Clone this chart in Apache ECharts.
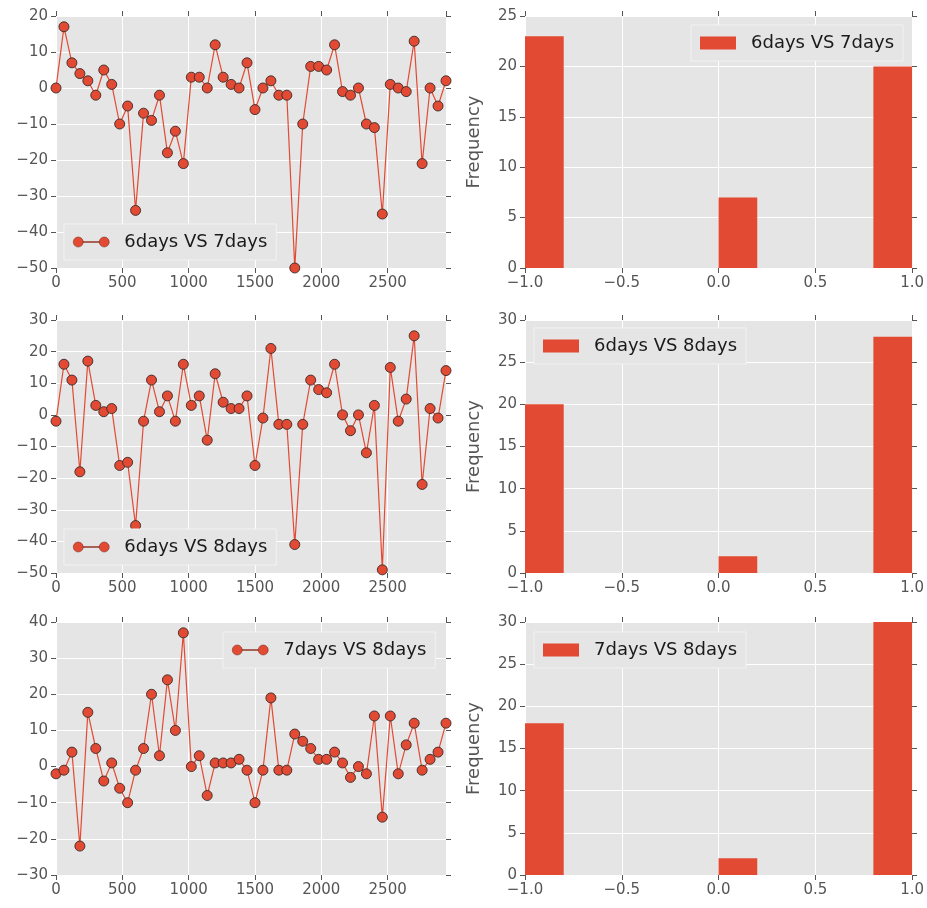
<!DOCTYPE html>
<html>
<head>
<meta charset="utf-8">
<script src="https://cdn.jsdelivr.net/npm/echarts@6/dist/echarts.min.js"></script>
<style>
html, body { margin: 0; padding: 0; background: #fff; }
#chart { width: 927px; height: 908px; }
</style>
</head>
<body>
<div id="chart"></div>
<script>
// sample positions (x axis of the line plots)
const xs = [0, 60, 120, 180, 240, 300, 360, 420, 480, 540,
    600, 660, 720, 780, 840, 900, 960, 1020, 1080, 1140,
    1200, 1260, 1320, 1380, 1440, 1500, 1560, 1620, 1680, 1740,
    1800, 1860, 1920, 1980, 2040, 2100, 2160, 2220, 2280, 2340,
    2400, 2460, 2520, 2580, 2640, 2700, 2760, 2820, 2880, 2940]

const diff67 = [0, 17, 7, 4, 2, -2, 5, 1, -10, -5,
    -34, -7, -9, -2, -18, -12, -21, 3, 3, 0,
    12, 3, 1, 0, 7, -6, 0, 2, -2, -2,
    -50, -10, 6, 6, 5, 12, -1, -2, 0, -10,
    -11, -35, 1, 0, -1, 13, -21, 0, -5, 2]
const diff68 = [-2, 16, 11, -18, 17, 3, 1, 2, -16, -15,
    -35, -2, 11, 1, 6, -2, 16, 3, 6, -8,
    13, 4, 2, 2, 6, -16, -1, 21, -3, -3,
    -41, -3, 11, 8, 7, 16, 0, -5, 0, -12,
    3, -49, 15, -2, 5, 25, -22, 2, -1, 14]
const diff78 = [-2, -1, 4, -22, 15, 5, -4, 1, -6, -10,
    -1, 5, 20, 3, 24, 10, 37, 0, 3, -8,
    1, 1, 1, 2, -1, -10, -1, 19, -1, -1,
    9, 7, 5, 2, 2, 4, 1, -3, 0, -2,
    14, -14, 14, -2, 6, 12, -1, 2, 4, 12]

// histogram bins and counts
const binEdges = [-1.0, -0.8, -0.6, -0.4, -0.2, 0.0, 0.2, 0.4, 0.6, 0.8, 1.0]
const hist67 = [23, 0, 0, 0, 0, 7, 0, 0, 0, 20]
const hist68 = [20, 0, 0, 0, 0, 2, 0, 0, 0, 28]
const hist78 = [18, 0, 0, 0, 0, 2, 0, 0, 0, 30]

const seriesNames = ['6days VS 7days', '6days VS 8days', '7days VS 8days']
const lineYMin = [-50, -50, -30]
const lineYMax = [20, 30, 40]
const histYMax = [25, 30, 30]

const lineData = [diff67, diff68, diff78]
const histData = [hist67, hist68, hist78]

// layout
const rowTop = [16, 320, 622]
const rowH = [252, 253, 253]
const lineLegendPos = [[64, 224], [64, 529], [223, 632]]
const histLegendPos = [[691, 25], [534, 328], [534, 632]]

const RED = '#E24A33'
const TICK = '#555555'
const minus = v => String(v).replace('-', '\u2212')

// two markers joined by a line, like the matplotlib legend handle
const markerIcon = 'path://M0,5A5,5,0,1,0,10,5A5,5,0,1,0,0,5ZM26,5A5,5,0,1,0,36,5A5,5,0,1,0,26,5ZM10,4.5L26,4.5L26,5.5L10,5.5Z'

const grids = [], xAxes = [], yAxes = [], series = [], legends = []

const tickStyle = { show: true, inside: false, length: 5, lineStyle: { color: TICK, width: 1 } }
const labelStyle = { color: TICK, fontSize: 15, fontFamily: 'DejaVu Sans', margin: 8 }
const noLine = { show: false, onZero: false }

function addAxes(gi, xCfg, yCfg) {
    xAxes.push(Object.assign({
        gridIndex: gi, position: 'bottom',
        axisLine: noLine, axisTick: tickStyle,
        splitLine: { show: true, lineStyle: { color: '#ffffff', width: 1 } }
    }, xCfg))
    xAxes.push({
        gridIndex: gi, position: 'top', type: 'value',
        min: xCfg.min, max: xCfg.max, interval: xCfg.interval,
        axisLine: noLine, axisTick: tickStyle,
        axisLabel: { show: false }, splitLine: { show: false }
    })
    yAxes.push(Object.assign({
        gridIndex: gi, position: 'left',
        axisLine: noLine, axisTick: tickStyle,
        splitLine: { show: true, lineStyle: { color: '#ffffff', width: 1 } }
    }, yCfg))
    yAxes.push({
        gridIndex: gi, position: 'right', type: 'value',
        min: yCfg.min, max: yCfg.max, interval: yCfg.interval,
        axisLine: noLine, axisTick: tickStyle,
        axisLabel: { show: false }, splitLine: { show: false }
    })
}

const legendBase = {
    orient: 'horizontal',
    selectedMode: false,
    backgroundColor: '#E5E5E5',
    borderColor: '#F2F2F2',
    borderWidth: 1,
    borderRadius: 0,
    padding: [9, 9],
    itemWidth: 36,
    textStyle: { color: '#1a1a1a', fontSize: 18, fontFamily: 'DejaVu Sans', padding: [0, 0, 0, 10] },
    formatter: name => name.split('|')[1]
}

for (let r = 0; r < 3; r++) {
    // left: line plot
    let gi = grids.length
    grids.push({ left: 56, top: rowTop[r], width: 390, height: rowH[r],
        show: true, backgroundColor: '#E5E5E5', borderWidth: 0 })
    addAxes(gi,
        { type: 'value', min: 0, max: 2940, interval: 500,
          axisLabel: Object.assign({}, labelStyle, { showMaxLabel: false, formatter: v => v }) },
        { type: 'value', min: lineYMin[r], max: lineYMax[r], interval: 10,
          axisLabel: Object.assign({}, labelStyle, { formatter: minus }) })
    const lname = 'line|' + seriesNames[r]
    series.push({
        name: lname,
        type: 'line',
        xAxisIndex: gi * 2, yAxisIndex: gi * 2,
        data: xs.map((x, i) => [x, lineData[r][i]]),
        symbol: 'circle', symbolSize: 10,
        lineStyle: { color: RED, width: 1.2 },
        itemStyle: { color: RED, borderColor: '#3a2a28', borderWidth: 0.9 },
        clip: true
    })
    legends.push(Object.assign({}, legendBase, {
        left: lineLegendPos[r][0], top: lineLegendPos[r][1],
        itemHeight: 10, icon: markerIcon,
        itemStyle: { borderColor: '#6b2a20', borderWidth: 0.5 },
        data: [lname]
    }))

    // right: histogram
    gi = grids.length
    grids.push({ left: 525, top: rowTop[r], width: 389, height: rowH[r],
        show: true, backgroundColor: '#E5E5E5', borderWidth: 0 })
    addAxes(gi,
        { type: 'value', min: -1, max: 1, interval: 0.5,
          axisLabel: Object.assign({}, labelStyle, { formatter: v => minus(v.toFixed(1)) }) },
        { type: 'value', min: 0, max: histYMax[r], interval: 5,
          name: 'Frequency', nameLocation: 'middle', nameGap: 42,
          nameTextStyle: { color: TICK, fontSize: 18, fontFamily: 'DejaVu Sans' },
          axisLabel: Object.assign({}, labelStyle) })
    const hname = 'hist|' + seriesNames[r]
    series.push({
        name: hname,
        type: 'custom',
        xAxisIndex: gi * 2, yAxisIndex: gi * 2,
        itemStyle: { color: RED },
        encode: { x: [0, 1], y: 2 },
        data: histData[r].map((c, i) => [binEdges[i], binEdges[i + 1], c]),
        renderItem: function (params, api) {
            const p0 = api.coord([api.value(0), api.value(2)])
            const p1 = api.coord([api.value(1), 0])
            return {
                type: 'rect',
                shape: { x: p0[0], y: p0[1], width: p1[0] - p0[0], height: p1[1] - p0[1] },
                style: api.style()
            }
        }
    })
    legends.push(Object.assign({}, legendBase, {
        left: histLegendPos[r][0], top: histLegendPos[r][1],
        itemHeight: 13, icon: 'rect',
        data: [hname]
    }))
}

const myChart = echarts.init(document.getElementById('chart'), null, { renderer: 'canvas' })
myChart.setOption({
    animation: false,
    textStyle: { fontFamily: 'DejaVu Sans' },
    grid: grids,
    xAxis: xAxes,
    yAxis: yAxes,
    legend: legends,
    series: series
})
</script>
</body>
</html>
